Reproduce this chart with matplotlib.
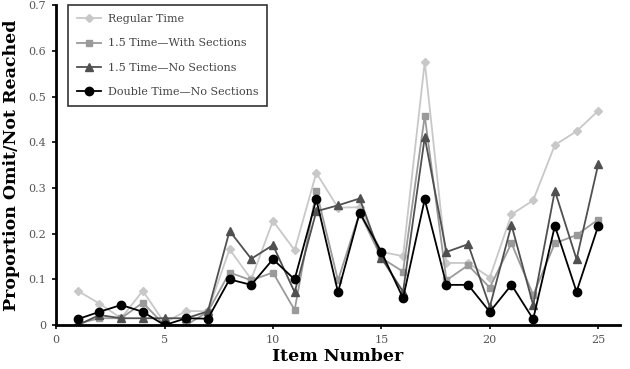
import matplotlib
matplotlib.use("Agg")
import matplotlib.pyplot as plt

# Item numbers and proportion omitted / not reached per condition
items = list(range(1, 26))
regular_time = [0.075, 0.047, 0.015, 0.075, 0.005, 0.031, 0.030, 0.166, 0.100, 0.228,
                0.164, 0.333, 0.257, 0.258, 0.160, 0.151, 0.576, 0.136, 0.136, 0.104,
                0.242, 0.273, 0.394, 0.424, 0.469]
with_sections = [0.003, 0.015, 0.015, 0.049, 0.000, 0.000, 0.029, 0.115, 0.098, 0.115,
                 0.033, 0.294, 0.098, 0.246, 0.147, 0.117, 0.458, 0.098, 0.131, 0.082,
                 0.179, 0.066, 0.179, 0.197, 0.231]
no_sections = [0.000, 0.022, 0.015, 0.015, 0.015, 0.015, 0.030, 0.206, 0.145, 0.175,
               0.072, 0.249, 0.262, 0.277, 0.147, 0.073, 0.411, 0.160, 0.177, 0.040,
               0.219, 0.044, 0.294, 0.144, 0.352]
double_time = [0.013, 0.029, 0.044, 0.029, 0.000, 0.015, 0.014, 0.100, 0.088, 0.144,
               0.100, 0.275, 0.072, 0.246, 0.160, 0.059, 0.275, 0.088, 0.088, 0.029,
               0.088, 0.013, 0.217, 0.073, 0.217]

labels = ["Regular Time", "1.5 Time\u2014With Sections",
          "1.5 Time\u2014No Sections", "Double Time\u2014No Sections"]

fig = plt.figure(figsize=(6.3, 3.69), dpi=100)
ax = fig.add_axes([0.089, 0.119, 0.895, 0.867])

ax.plot(items, regular_time, color="#c8c8c8", marker="D", markersize=4, lw=1.3, label=labels[0])
ax.plot(items, with_sections, color="#9a9a9a", marker="s", markersize=5, lw=1.3, label=labels[1])
ax.plot(items, no_sections, color="#505050", marker="^", markersize=6, lw=1.3, label=labels[2])
ax.plot(items, double_time, color="#000000", marker="o", markersize=6, lw=1.3, label=labels[3])

ax.set_xlim(0, 26)
ax.set_ylim(0, 0.7)
ax.set_xticks([0, 5, 10, 15, 20, 25])
ax.set_yticks([0, 0.1, 0.2, 0.3, 0.4, 0.5, 0.6, 0.7])
ax.set_yticklabels(["0", "0.1", "0.2", "0.3", "0.4", "0.5", "0.6", "0.7"])

for side in ["top", "right"]:
    ax.spines[side].set_visible(False)
for side in ["left", "bottom"]:
    ax.spines[side].set_linewidth(2)
ax.tick_params(axis="both", direction="out", length=3, width=1.2,
               labelsize=8, labelcolor="#555555", pad=4)
for lbl in ax.get_xticklabels() + ax.get_yticklabels():
    lbl.set_family("DejaVu Serif")

ax.set_xlabel("Item Number", family="DejaVu Serif", fontweight="bold", fontsize=12.5, labelpad=2)
ax.set_ylabel("Proportion Omit/Not Reached", family="DejaVu Serif", fontweight="bold", fontsize=12.5, labelpad=6)

leg = ax.legend(loc="upper left", bbox_to_anchor=(0.021, 1.0), borderaxespad=0,
                frameon=True, fancybox=False, edgecolor="black",
                prop={"family": "DejaVu Serif", "size": 8},
                handlelength=2.2, handletextpad=0.6, labelspacing=1.3, borderpad=0.8)
leg.get_frame().set_linewidth(1.2)
for t in leg.get_texts():
    t.set_color("#444444")

fig.savefig("out.png", dpi=100)
